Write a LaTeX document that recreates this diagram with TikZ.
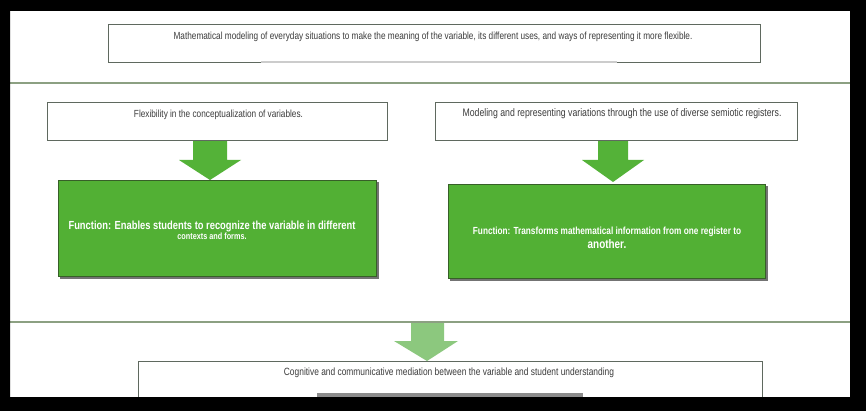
\documentclass[tikz,border=0pt]{standalone}
\usepackage{fontspec}
\setmainfont{Liberation Sans}[FakeStretch=0.8]
\usetikzlibrary{calc}
\definecolor{gfill}{RGB}{82,176,52}
\definecolor{gborder}{RGB}{55,95,40}
\definecolor{agreen}{RGB}{84,178,56}
\definecolor{lgreen}{RGB}{140,200,126}
\definecolor{lineg}{RGB}{140,160,130}
\definecolor{boxline}{RGB}{95,105,95}
\definecolor{txt}{RGB}{60,60,60}
\begin{document}
\begin{tikzpicture}[x=1pt,y=-1pt,
  wbox/.style={draw=boxline, line width=1.2pt, fill=white, anchor=north west, inner sep=0pt},
  gbox/.style={draw=gborder, line width=1pt, fill=gfill, anchor=north west, inner sep=0pt},
  shadowbox/.style={fill=black!55, anchor=north west, inner sep=0pt},
  wtext/.style={text=txt, inner sep=0pt},
  gtext/.style={text=white, inner sep=0pt, align=center, font=\bfseries},
  sepline/.style={draw=lineg, line width=1.6pt},
  blockarrow/.style={fill=agreen},
  lightarrow/.style={fill=lgreen}
]
\useasboundingbox (0,0) rectangle (866,411);
\fill[white] (0,0) rectangle (866,411);

% separator lines
\draw[sepline] (10,83) -- (850,83);
\draw[sepline] (10,322) -- (850,322);

% top box
\node[wbox, minimum width=652pt, minimum height=38pt] (top) at (108,24) {};
\draw[gray!40, line width=1.4pt] (261,62) -- (617,62);
\node[wtext, font=\fontsize{10.3}{12}\selectfont] (toptext) at (433,37) {Mathematical modeling of everyday situations to make the meaning of the variable, its different uses, and ways of representing it more flexible.};

% left column
\node[wbox, minimum width=340pt, minimum height=38pt] (l1) at (47,102) {};
\node[wtext, font=\fontsize{10.3}{12}\selectfont] (l1text) at (218.5,115) {Flexibility in the conceptualization of variables.};
\node[shadowbox, minimum width=319pt, minimum height=97pt] (lgs) at (60,182) {};
\node[gbox, minimum width=318pt, minimum height=96pt] (lg) at (58,180) {};
\node[gtext] (lgtext) at (212,230) {\fontsize{11.7}{14}\selectfont Function: Enables students to recognize the variable in different\\[-2pt]\fontsize{9.1}{11}\selectfont contexts and forms.};

% right column
\node[wbox, minimum width=362pt, minimum height=38pt] (r1) at (435,102) {};
\node[wtext, font=\fontsize{10.9}{13}\selectfont] (r1text) at (622,114) {Modeling and representing variations through the use of diverse semiotic registers.};
\node[shadowbox, minimum width=318pt, minimum height=95pt] (rgs) at (450,186) {};
\node[gbox, minimum width=317pt, minimum height=94pt] (rg) at (448,184) {};
\node[gtext] (rgtext) at (607,238) {\fontsize{10.3}{12}\selectfont Function: Transforms mathematical information from one register to\\[2pt]\fontsize{12.4}{14}\selectfont another.};

% bottom box
\node[wbox, minimum width=624pt, minimum height=50pt] (bot) at (138,361) {};
\fill[black!45] (317,393) rectangle (583,397);
\node[wtext, font=\fontsize{10.5}{12}\selectfont] (bottext) at (449,373) {Cognitive and communicative mediation between the variable and student understanding};

% block arrows
\coordinate (la) at (210,0);
\coordinate (ra) at (613,0);
\coordinate (ba) at (427,0);
\fill[blockarrow] ($(la |- l1.south)+(-17,0)$) -- ($(la |- l1.south)+(17,0)$) -- ($(la |- lg.north)+(17,-20)$) -- ($(la |- lg.north)+(31,-20)$) -- (la |- lg.north) -- ($(la |- lg.north)+(-31,-20)$) -- ($(la |- lg.north)+(-17,-20)$) -- cycle;
\fill[blockarrow] ($(ra |- r1.south)+(-15,0)$) -- ($(ra |- r1.south)+(15,0)$) -- ($(ra |- rg.north)+(15,-24)$) -- ($(ra |- rg.north)+(31,-24)$) -- ($(ra |- rg.north)+(0,-2)$) -- ($(ra |- rg.north)+(-31,-24)$) -- ($(ra |- rg.north)+(-15,-24)$) -- cycle;
\fill[lightarrow] ($(ba |- 0,323)+(-16,0)$) -- ($(ba |- 0,323)+(17,0)$) -- ($(ba |- bot.north)+(17,-20)$) -- ($(ba |- bot.north)+(31,-20)$) -- (ba |- bot.north) -- ($(ba |- bot.north)+(-33,-20)$) -- ($(ba |- bot.north)+(-16,-20)$) -- cycle;

% black frame
\fill[black, even odd rule] (0,0) rectangle (866,411) (10,11) rectangle (850,397);
\end{tikzpicture}
\end{document}
